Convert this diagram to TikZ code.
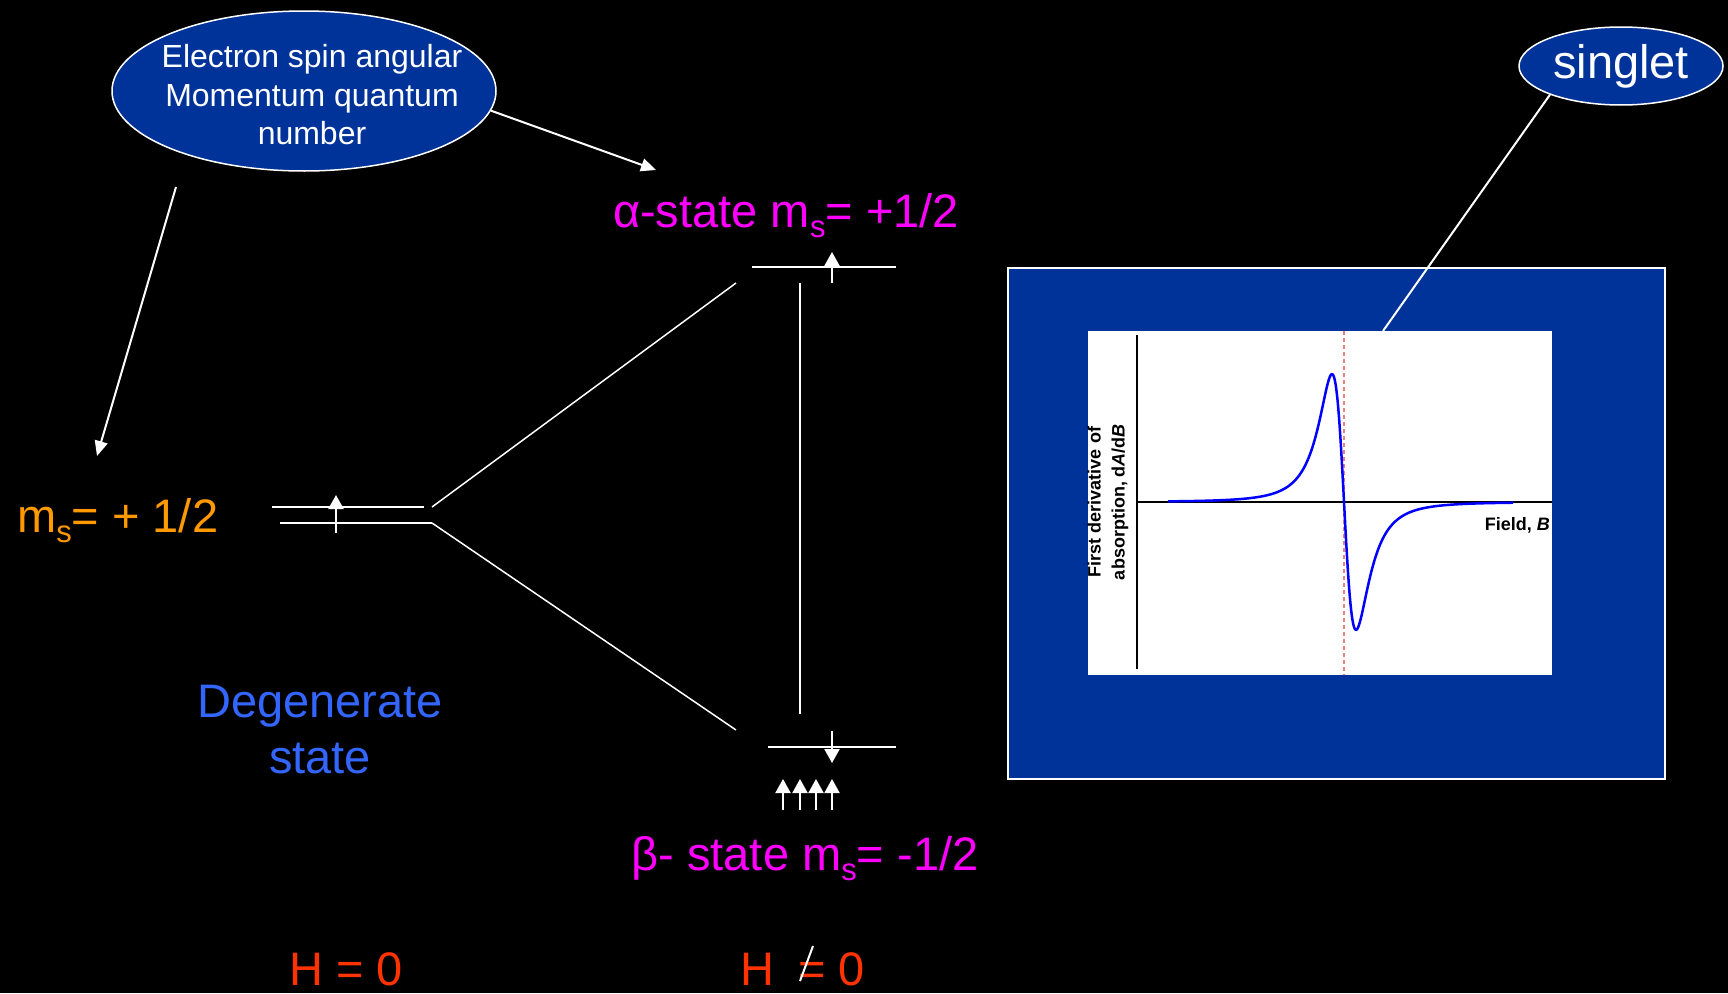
\documentclass[tikz,border=0pt]{standalone}
\usepackage{fontspec}
\setmainfont{Liberation Sans}
\usetikzlibrary{arrows.meta,shapes.geometric}
\definecolor{ellblue}{HTML}{003399}
\definecolor{magen}{HTML}{FF00FF}
\definecolor{orng}{HTML}{FF9900}
\definecolor{degblue}{HTML}{3366FF}
\definecolor{hred}{HTML}{FF3300}
\definecolor{curveblue}{HTML}{0000FF}
\definecolor{dashred}{HTML}{F08080}
\newcommand\lowsub[1]{\raisebox{-0.22em}{\fontsize{31}{31}\selectfont #1}}
\begin{document}
\begin{tikzpicture}[x=1pt,y=-1pt,
  big/.style={font=\fontsize{47}{56}\selectfont, inner sep=0},
  bubble/.style={ellipse, draw=white, line width=1.5pt, fill=ellblue, text=white, inner sep=0, align=center},
  level/.style={white, line width=2pt},
  thin/.style={white, line width=1.5pt},
  spin/.style={white, line width=2pt, -{Triangle[width=15pt,length=14pt]}},
  pointer/.style={white, line width=2pt, -{Triangle[width=13pt,length=15pt]}},
  panel/.style={draw=white, line width=2pt, fill=ellblue, inner sep=0, anchor=north west},
  plotarea/.style={fill=white, inner sep=0, anchor=north west},
  axlabel/.style={font=\fontsize{18}{24}\selectfont\bfseries, inner sep=0, text=black}]
% background
\fill[black] (0,0) rectangle (1728,993);
\useasboundingbox (0,0) rectangle (1728,993);

% bubbles
\node[bubble, minimum width=384pt, minimum height=160pt] (ell) at (304,91) {};
\node[text=white, inner sep=0, align=center, font=\fontsize{32}{38.5}\selectfont] (elltxt) at (312,95)
  {Electron spin angular\\Momentum quantum\\number};
\node[bubble, minimum width=204pt, minimum height=78pt, font=\fontsize{47}{56}\selectfont] (sing) at (1621,66) {singlet};

% texts
\node[big, text=orng, anchor=base west] (msl) at (17,532) {m\lowsub{s}= + 1/2};
\node[big, text=magen, anchor=base] (alpha) at (786,227) {α-state m\lowsub{s}= +1/2};
\node[big, text=magen, anchor=base] (beta) at (805,870) {β- state m\lowsub{s}= -1/2};
\node[big, text=degblue, anchor=base] (deg) at (320,717) {Degenerate};
\node[big, text=degblue, anchor=base] (st) at (320,773) {state};
\node[big, text=hred, anchor=base] (h0) at (346,985) {H = 0};
\node[big, text=hred, anchor=base west] (h1) at (740,985) {H\hspace{11pt} = 0};
\coordinate (sl1) at (800,981);
\coordinate (sl2) at (813,946);
\draw[white, line width=2pt] (sl1) -- (sl2);

% pointer arrows
\coordinate (p1s) at (176,187);
\coordinate (p1e) at (97,456);
\coordinate (p2e) at (656,170);
\draw[pointer] (p1s) -- (p1e);
\draw[pointer] (ell.-6) -- (p2e);

% levels
\coordinate (LU1) at (272,507); \coordinate (LU2) at (424,507);
\coordinate (LL1) at (280,523); \coordinate (LL2) at (432,523);
\coordinate (DU) at (432,507);
\coordinate (AU1) at (752,267); \coordinate (AU2) at (896,267);
\coordinate (BL1) at (768,747); \coordinate (BL2) at (896,747);
\coordinate (DUe) at (736,283); \coordinate (DLe) at (736,730);
\coordinate (V1) at (800,283); \coordinate (V2) at (800,714);
\draw[level] (LU1) -- (LU2);
\draw[level] (LL1) -- (LL2);
\draw[level] (AU1) -- (AU2);
\draw[level] (BL1) -- (BL2);
\draw[thin] (DU) -- (DUe);
\draw[thin] (LL2) -- (DLe);
\draw[level] (V1) -- (V2);

% spins
\coordinate (s0a) at (336,533); \coordinate (s0b) at (336,495);
\draw[spin] (s0a) -- (s0b);
\coordinate (s1a) at (832,283); \coordinate (s1b) at (832,252);
\draw[spin] (s1a) -- (s1b);
\coordinate (s2a) at (832,731); \coordinate (s2b) at (832,763);
\draw[spin] (s2a) -- (s2b);
\foreach \xx/\nn in {783/a,800/b,816/c,832/d}{
  \coordinate (u\nn1) at (\xx,810); \coordinate (u\nn2) at (\xx,779);
  \draw[spin] (u\nn1) -- (u\nn2);
}

% panel
\node[panel, minimum width=657pt, minimum height=511pt] (box) at (1007,267) {};
\node[plotarea, minimum width=464pt, minimum height=344pt] (plot) at (1088,331) {};
\coordinate (yax1) at (1137,335); \coordinate (yax2) at (1137,669);
\coordinate (xax1) at (1137,502); \coordinate (xax2) at (1552,502);
\coordinate (rd1) at (1344,331); \coordinate (rd2) at (1344,675);
\draw[black, line width=1.5pt] (yax1) -- (yax2);
\draw[black, line width=1.5pt] (xax1) -- (xax2);
\draw[dashred, line width=1.2pt, dash pattern=on 4pt off 3pt] (rd1) -- (rd2);
\draw[curveblue, line width=2.5pt, line join=round, domain=1168:1513, samples=400]
  plot (\x, {502 + 197*2*((\x-1344)/20.8)/(1+((\x-1344)/20.8)^2)^2});
\node[axlabel, anchor=base east] (fld) at (1550,530) {Field, \textit{B}};
\node[axlabel, rotate=90, align=center] (ylab) at (1108,502) {First derivative of\\absorption, d\textit{A}/d\textit{B}};

% singlet pointer line
\coordinate (sgE) at (1383,331);
\draw[white, line width=2pt] (sing.202) -- (sgE);
\end{tikzpicture}
\end{document}
